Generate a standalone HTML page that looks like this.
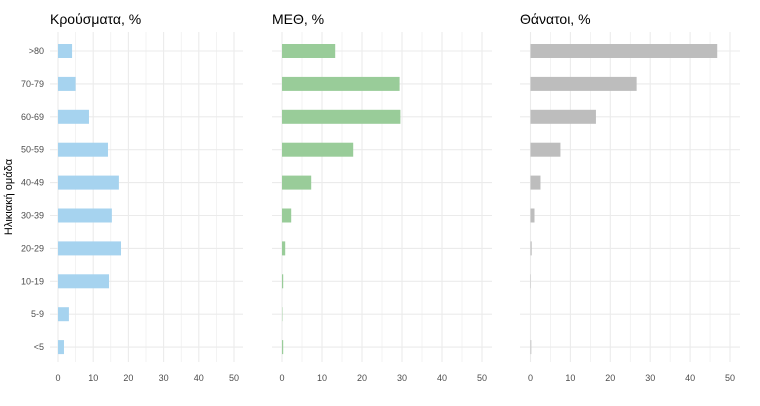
<!DOCTYPE html>
<html><head><meta charset="utf-8"><style>
body{margin:0;background:#fff;font-family:"Liberation Sans",sans-serif}
svg text{font-family:"Liberation Sans",sans-serif}
</style></head><body>
<svg id="c" width="760" height="401" xmlns="http://www.w3.org/2000/svg"></svg>
<script>
const categories=[">80","70-79","60-69","50-59","40-49","30-39","20-29","10-19","5-9","<5"];
const cases=[4,5,8.8,14.2,17.3,15.3,17.9,14.5,3.1,1.7];
const icu=[13.3,29.4,29.6,17.8,7.3,2.3,0.8,0.3,0.1,0.3];
const deaths=[46.8,26.6,16.4,7.5,2.5,1,0.3,0.1,0,0.2];
const ticks=[0,10,20,30,40,50];
const titles=["Κρούσματα, %","ΜΕΘ, %","Θάνατοι, %"];
const panels=[
 {vals:cases,color:"#a6d3ef",x0:58,scale:3.52,left:50,right:243,name:"cases"},
 {vals:icu,color:"#99cc99",x0:282,scale:4.0,left:272,right:492,name:"icu"},
 {vals:deaths,color:"#bdbdbd",x0:530.5,scale:3.99,left:520,right:740,name:"deaths"}];
const NS="http://www.w3.org/2000/svg",svgEl=document.getElementById("c");
function el(t,a,p){const e=document.createElementNS(NS,t);for(const k in a)e.setAttribute(k,a[k]);(p||svgEl).appendChild(e);return e;}
const yFirst=51,yStep=32.9,plotTop=32,plotBot=362;
const yPos=i=>yFirst+i*yStep;
panels.forEach((p,pi)=>{
 const g=el("g",{});
 
 
 const xs=v=>p.x0+v*p.scale;
 for(let v=0;v<=50;v+=5){const l=el("line",{x1:xs(v),x2:xs(v),y1:plotTop,y2:plotBot,stroke:"#ebebeb","stroke-width":v%10?0.6:1.1},g);
  
  }
 categories.forEach((c,i)=>{const l=el("line",{x1:p.left,x2:p.right,y1:yPos(i),y2:yPos(i),stroke:"#ebebeb","stroke-width":1.1},g);
  
  });
 p.vals.forEach((v,i)=>{const r=el("rect",{x:xs(0),y:yPos(i)-7,width:Math.max(v*p.scale,0),height:14,fill:p.color},g);
  
  });
 ticks.forEach(t=>{const tx=el("text",{x:xs(t),y:381,"font-size":9,fill:"#4d4d4d","text-anchor":"middle"},g);tx.textContent=t;
  
  });
 const ti=el("text",{x:p.left,y:24,"font-size":14,fill:"#000"},g);ti.textContent=titles[pi];
 
 
});
categories.forEach((c,i)=>{const t=el("text",{x:44,y:yPos(i)+3,"font-size":9,fill:"#4d4d4d","text-anchor":"end"});t.textContent=c;
 
 });
const yt=el("text",{x:12,y:197,"font-size":11,fill:"#000","text-anchor":"middle",transform:"rotate(-90 12 197)"});
yt.textContent="Ηλικιακή ομάδα";


</script>
</body></html>
